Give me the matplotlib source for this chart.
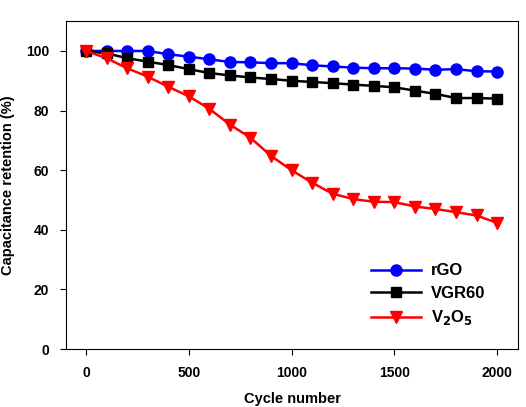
import numpy as np
import matplotlib.pyplot as plt

plt.rcParams['font.family'] = ['Liberation Sans', 'DejaVu Sans']
plt.rcParams['font.weight'] = 'bold'

cycles = np.arange(0, 2001, 100)
rgo = [100, 100, 100, 100, 98.9, 98.1, 97.2, 96.3, 96.2, 95.9, 95.9,
       95.2, 94.8, 94.4, 94.2, 94.2, 94.1, 93.7, 93.9, 93.2, 93.1]
vgr60 = [100, 99.2, 97.6, 96.4, 95.3, 93.9, 92.6, 91.8, 91.1, 90.6, 90.0,
         89.6, 89.2, 88.7, 88.3, 87.8, 86.7, 85.6, 84.2, 84.2, 84.0]
v2o5 = [100, 97.6, 94.2, 91.4, 88.0, 84.8, 80.6, 75.3, 70.9, 64.8, 60.0,
        55.8, 52.1, 50.3, 49.4, 49.3, 47.8, 47.0, 45.9, 44.8, 42.3]

fig = plt.figure(figsize=(5.26, 4.07), dpi=100)
ax = fig.add_axes([0.1255, 0.1425, 0.8595, 0.8055])

ax.plot(cycles, rgo, color='blue', marker='o', markersize=8, lw=1.8, label='rGO')
ax.plot(cycles, vgr60, color='black', marker='s', markersize=7, lw=1.8, label='VGR60')
ax.plot(cycles, v2o5, color='red', marker='v', markersize=8.5, lw=1.8,
        label='V$_\\mathbf{2}$O$_\\mathbf{5}$')

ax.set_xlim(-97, 2102)
ax.set_ylim(0, 110)
ax.set_xticks([0, 500, 1000, 1500, 2000])
ax.set_yticks([0, 20, 40, 60, 80, 100])
ax.tick_params(direction='out', length=4, labelsize=10, pad=8)
for lab in ax.get_xticklabels() + ax.get_yticklabels():
    lab.set_fontweight('bold')

ax.set_xlabel('Cycle number', fontsize=10.5, fontweight='bold', labelpad=9)
ax.set_ylabel('Capacitance retention (%)', fontsize=10.5, fontweight='bold', labelpad=8)

leg = ax.legend(loc='lower right', bbox_to_anchor=(0.96, 0.02), frameon=False,
                fontsize=12, handlelength=3.0, labelspacing=0.45, handletextpad=0.6)
for t in leg.get_texts():
    t.set_fontweight('bold')

plt.savefig('out.png', dpi=100)
